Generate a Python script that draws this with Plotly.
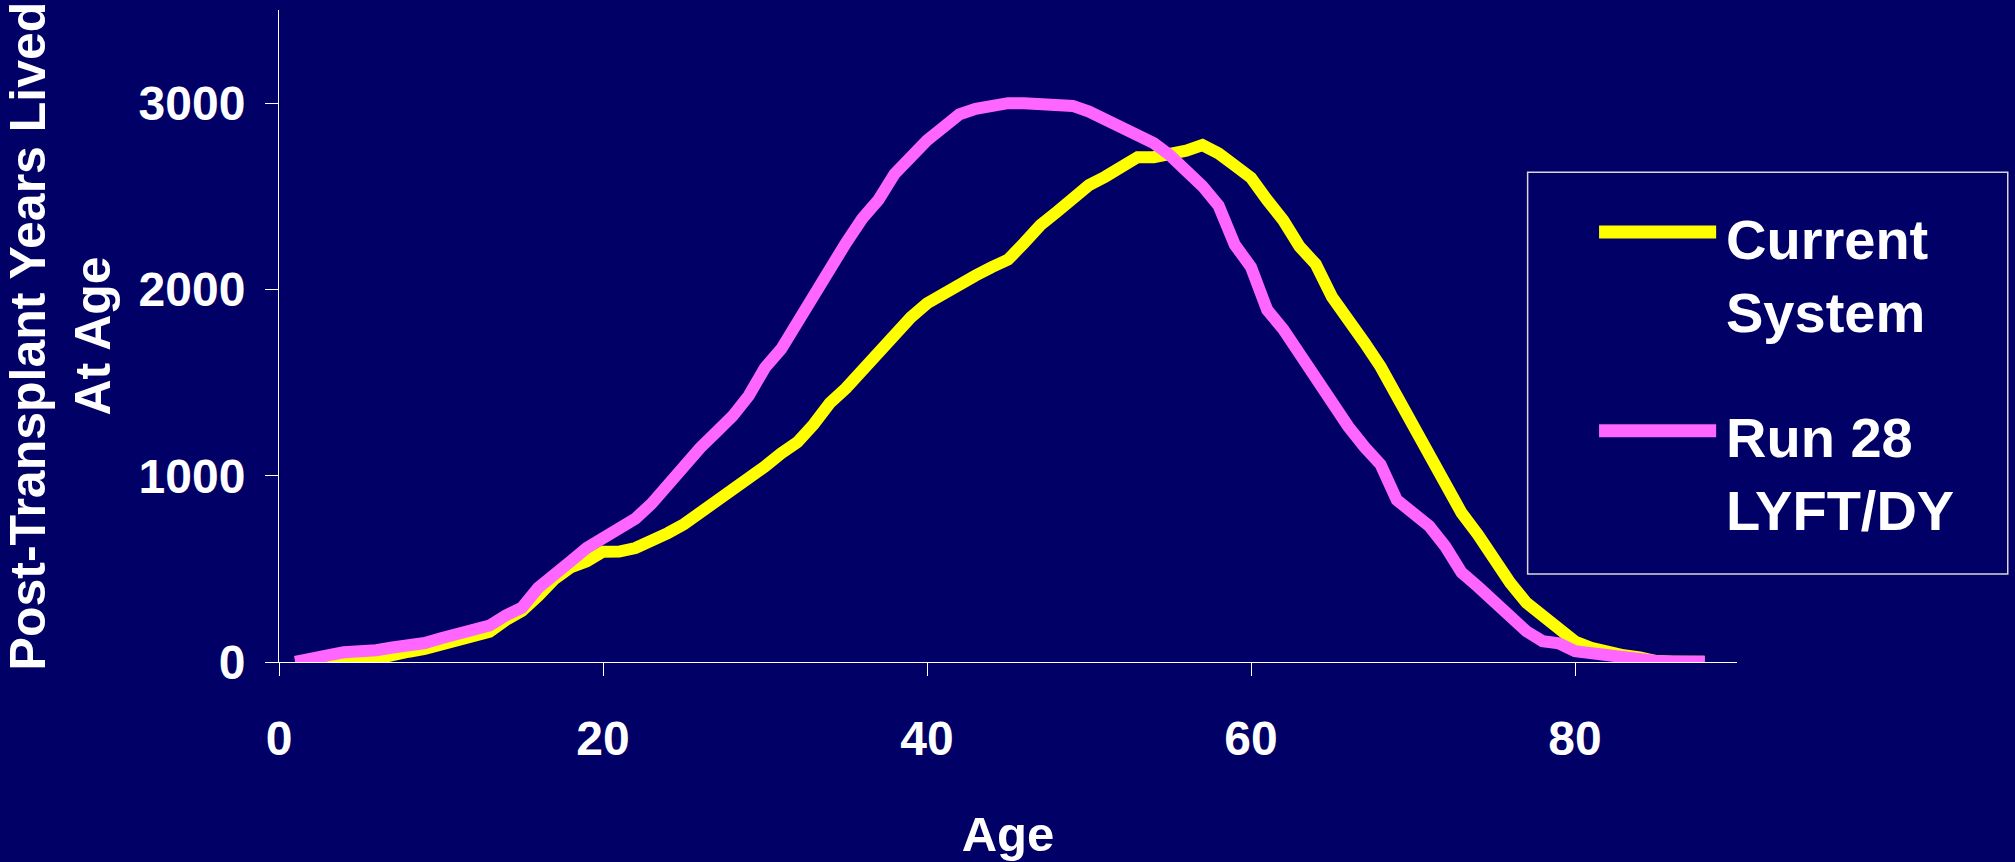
import plotly.graph_objects as go

# Age at which post-transplant years are lived
ages = list(range(1, 89))

# Post-transplant years lived at each age, current allocation system
current_system = [
    0, 0, 3, 8, 12, 18, 42, 55, 70, 92,
    113, 137, 163, 225, 275, 355, 445, 508, 540, 592,
    593, 612, 648, 692, 740, 800, 855, 920, 975, 1050,
    1120, 1180, 1275, 1390, 1470, 1570, 1660, 1760, 1850, 1925,
    1980, 2030, 2075, 2120, 2160, 2250, 2345, 2415, 2495, 2560,
    2605, 2650, 2710, 2710, 2725, 2745, 2775, 2730, 2665, 2600,
    2480, 2370, 2230, 2135, 1960, 1850, 1715, 1585, 1425, 1270,
    1120, 965, 800, 685, 550, 425, 318, 245, 176, 110,
    76, 49, 36, 25, 5, 2, 1, 1,
]

# Post-transplant years lived at each age, Run 28 (LYFT/DY)
run_28 = [
    0, 10, 35, 52, 55, 63, 78, 82, 102, 128,
    152, 174, 196, 250, 292, 398, 460, 540, 612, 660,
    708, 770, 850, 950, 1060, 1150, 1235, 1320, 1430, 1580,
    1680, 1830, 1960, 2110, 2250, 2380, 2480, 2620, 2720, 2800,
    2870, 2940, 2970, 2990, 3000, 3000, 3000, 3000, 2985, 2955,
    2910, 2865, 2830, 2785, 2720, 2640, 2555, 2450, 2240, 2120,
    1890, 1785, 1650, 1540, 1380, 1265, 1155, 1060, 870, 800,
    730, 620, 480, 405, 318, 237, 165, 112, 100, 58,
    45, 36, 23, 11, 5, 3, 2, 2,
]

series_names = ["Current<br>System", "Run 28<br>LYFT/DY"]
series_colors = ["#FFFF00", "#FF66FF"]

x_ticks = [0, 20, 40, 60, 80]
y_ticks = [0, 1000, 2000, 3000]

BG = "#000066"
FONT = "Liberation Sans, Arial, sans-serif"

fig = go.Figure()
for name, values, color in zip(series_names, [current_system, run_28], series_colors):
    fig.add_trace(go.Scatter(
        x=ages, y=values, mode="lines", name=name,
        line=dict(color=color, width=12),
        showlegend=False,
    ))

fig.update_layout(
    template="none",
    width=2015, height=862,
    margin=dict(l=279, r=278, t=10, b=200),
    paper_bgcolor=BG, plot_bgcolor=BG,
    font=dict(family=FONT, color="white"),
    xaxis=dict(
        range=[0, 90], tickvals=x_ticks, ticktext=[str(v) for v in x_ticks],
        showgrid=False, zeroline=False,
        showline=True, linecolor="white", linewidth=1,
        ticks="outside", ticklen=13, tickcolor="white", tickwidth=1,
        tickfont=dict(family=FONT, size=48, color="white", weight="bold"),
        ticklabelstandoff=21,
        title=dict(text="<b>Age</b>", font=dict(family=FONT, size=49, color="white"),
                   standoff=53),
        automargin=False,
    ),
    yaxis=dict(
        range=[0, 3500], tickvals=y_ticks, ticktext=[str(v) for v in y_ticks],
        showgrid=False, zeroline=False,
        showline=True, linecolor="white", linewidth=1,
        ticks="outside", ticklen=13, tickcolor="white", tickwidth=1,
        tickfont=dict(family=FONT, size=48, color="white", weight="bold"),
        ticklabelstandoff=10,
        title=dict(text="<b>Post-Transplant Years Lived<br>At Age</b>",
                   font=dict(family=FONT, size=50, color="white"), standoff=26),
        automargin=False,
    ),
)

# Legend panel: framed box with long line samples and two-line labels
shapes = [dict(type="rect", xref="paper", yref="paper",
               x0=0.8564, x1=1.1857, y0=0.1349, y1=0.7512,
               line=dict(color="#D8D8D8", width=1.5), fillcolor="rgba(0,0,0,0)")]
annotations = []
for name, color, line_y, text_y in zip(series_names, series_colors,
                                       [0.6597, 0.3546], [0.5914, 0.2887]):
    shapes.append(dict(type="line", xref="paper", yref="paper",
                       x0=0.9054, x1=0.9857, y0=line_y, y1=line_y,
                       line=dict(color=color, width=13)))
    annotations.append(dict(xref="paper", yref="paper", x=0.9911, y=text_y,
                            xanchor="left", yanchor="middle", align="left",
                            showarrow=False, text="<b>" + name + "</b>",
                            font=dict(family=FONT, size=56, color="white")))
fig.update_layout(shapes=shapes, annotations=annotations)

fig.write_html("out.html")
